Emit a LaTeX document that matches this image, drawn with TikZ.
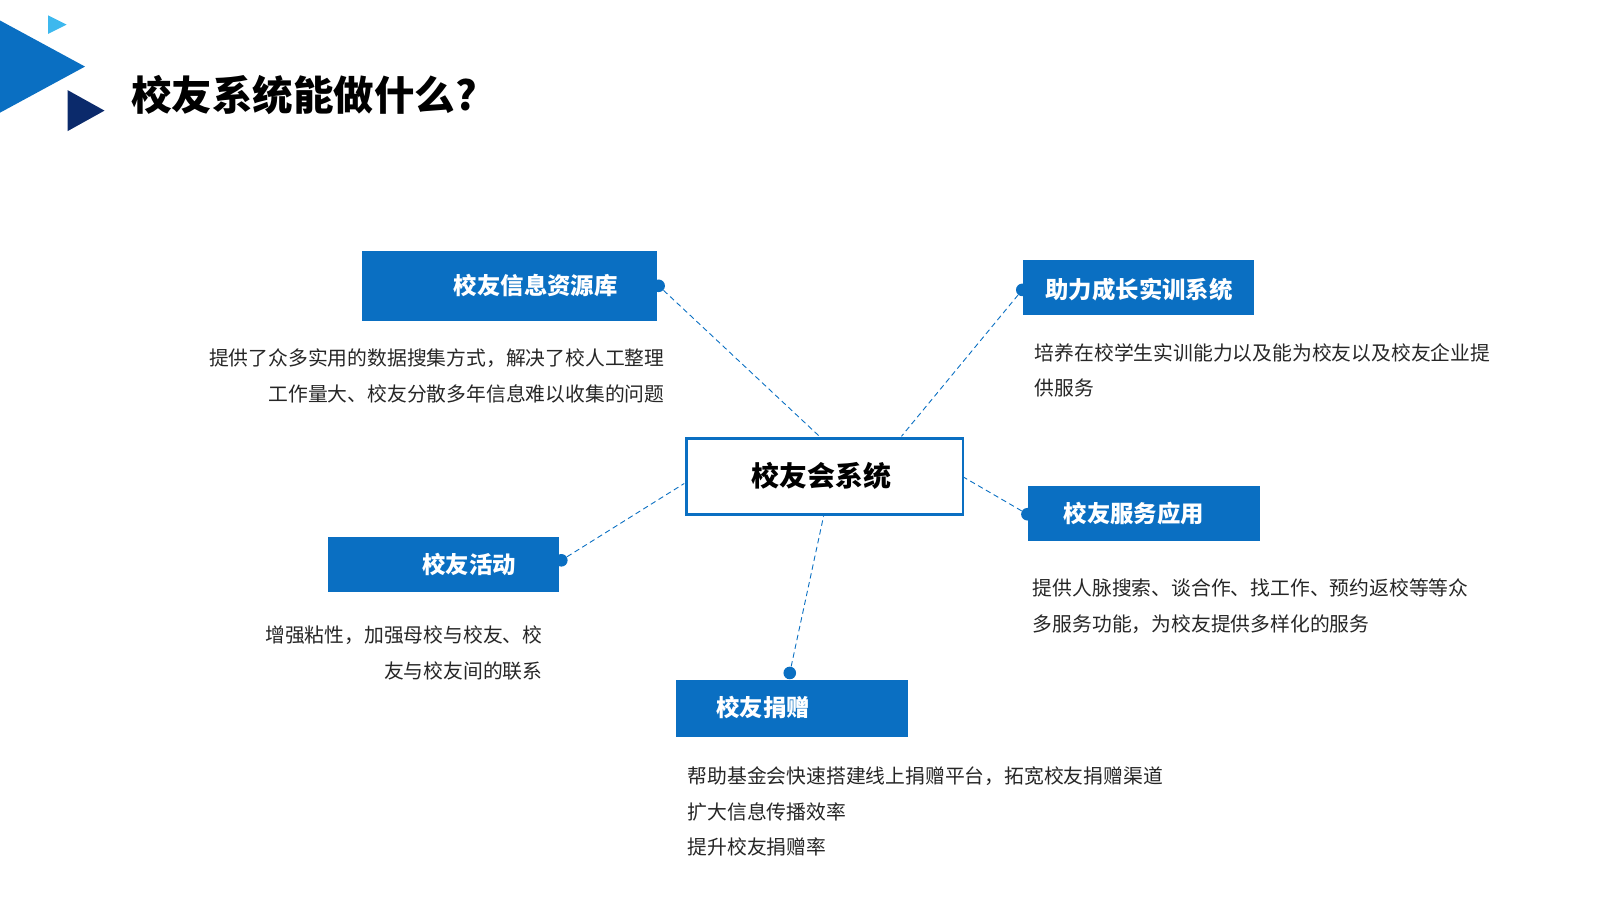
\documentclass[tikz,border=0pt]{standalone}
\usepackage{fontspec}
\setmainfont{Noto Sans CJK SC}
\definecolor{boxblue}{HTML}{0A6FC2}
\definecolor{navy}{HTML}{0B2A6B}
\definecolor{skyblue}{HTML}{3DB8EE}
\tikzset{
	feature/.style={fill=boxblue, draw=none},
	featurelabel/.style={text=white, font=\fontsize{13pt}{15pt}\selectfont\bfseries},
	desc/.style={font=\fontsize{11pt}{19.8pt}\selectfont, inner sep=0pt, text=black!85},
	link/.style={densely dashed, boxblue, line width=0.5pt},
	dot/.style={circle, fill=boxblue, inner sep=0pt, minimum size=7pt}
}
\begin{document}
\begin{tikzpicture}[x=0.02cm, y=-0.02cm]
	\useasboundingbox (0,0) rectangle (1562,879);
	% Dreiecke oben links
	\fill[skyblue] (47,15) -- (47,33) -- (65,24) -- cycle;
	\fill[boxblue] (0,20) -- (0,110) -- (83,65) -- cycle;
	\fill[navy] (66,88) -- (66,128) -- (102,108) -- cycle;
	\node[anchor=west, font=\fontsize{22.5pt}{25pt}\selectfont\bfseries] (title) at (122,93) {校友系统能做什么?};

	% Zentrum
	\draw[boxblue, line width=1.5pt, fill=white] (670,428) rectangle (940,502);
	\node[font=\fontsize{15.5pt}{18pt}\selectfont\bfseries] (center) at (802,465) {校友会系统};

	% Kaesten
	\fill[feature] (353,245) rectangle (641,313);
	\node[featurelabel] (info) at (523,279) {校友信息资源库};
	\fill[feature] (999,254) rectangle (1224,308);
	\node[featurelabel] (train) at (1112,283) {助力成长实训系统};
	\fill[feature] (1004,474) rectangle (1230,528);
	\node[featurelabel] (service) at (1107,501) {校友服务应用};
	\fill[feature] (320,524) rectangle (546,578);
	\node[featurelabel] (activity) at (458,551) {校友活动};
	\fill[feature] (660,664) rectangle (886,719);
	\node[featurelabel] (donate) at (745,691) {校友捐赠};

	% Punkte
	\node[dot] (dinfo) at (643,279) {};
	\node[dot] (dtrain) at (998,283) {};
	\node[dot] (dservice) at (1003,502) {};
	\node[dot] (dactivity) at (548,547) {};
	\node[dot] (ddonate) at (771,657) {};
	\coordinate (cinfo) at (800,426);
	\coordinate (ctrain) at (880,426);
	\coordinate (cservice) at (941,466);
	\coordinate (cactivity) at (668,472);
	\coordinate (cdonate) at (804,504);

	% Verbindungen
	\draw[link] (dinfo) -- (cinfo);
	\draw[link] (dtrain) -- (ctrain);
	\draw[link] (dservice) -- (cservice);
	\draw[link] (dactivity) -- (cactivity);
	\draw[link] (ddonate) -- (cdonate);

	% Beschreibungen
	\node[desc, anchor=north east, align=right] (tinfo) at (649,340) {提供了众多实用的数据搜集方式，解决了校人工整理\\工作量大、校友分散多年信息难以收集的问题};
	\node[desc, anchor=north west, align=left] (ttrain) at (1010,335) {培养在校学生实训能力以及能为校友以及校友企业提\\供服务};
	\node[desc, anchor=north west, align=left] (tservice) at (1008,565) {提供人脉搜索、谈合作、找工作、预约返校等等众\\多服务功能，为校友提供多样化的服务};
	\node[desc, anchor=north east, align=right] (tactivity) at (530,611) {增强粘性，加强母校与校友、校\\友与校友间的联系};
	\node[desc, anchor=north west, align=left] (tdonate) at (671,748) {帮助基金会快速搭建线上捐赠平台，拓宽校友捐赠渠道\\扩大信息传播效率\\提升校友捐赠率};
\end{tikzpicture}
\end{document}
